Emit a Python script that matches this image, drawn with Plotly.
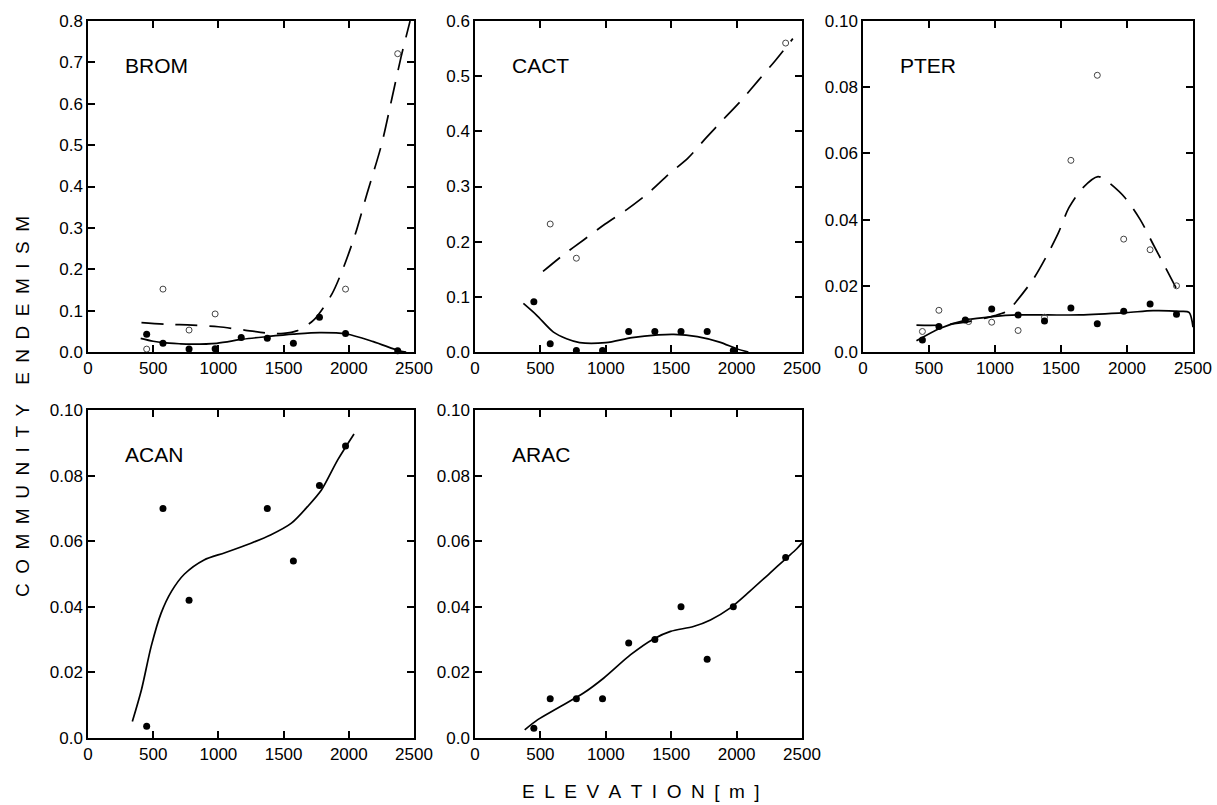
import plotly.graph_objects as go

W, H = 1217, 805

# ---------------- data ----------------
panel_names = ["BROM", "CACT", "PTER", "ACAN", "ARAC"]

# BROM
brom_fill_x = [450, 575, 775, 975, 1175, 1375, 1575, 1775, 1975, 2375]
brom_fill_y = [0.043, 0.021, 0.007, 0.008, 0.035, 0.033, 0.021, 0.084, 0.045, 0.003]
brom_open_x = [450, 575, 775, 975, 1975, 2375]
brom_open_y = [0.007, 0.152, 0.053, 0.092, 0.152, 0.721]
brom_solid_x = [404, 500, 577, 700, 782, 987, 1191, 1370, 1574, 1779, 1984, 2188, 2393, 2440]
brom_solid_y = [0.033, 0.026, 0.0225, 0.020, 0.019, 0.021, 0.031, 0.037, 0.043, 0.047, 0.0435, 0.025, 0.0024, 0.0]
brom_dash_x = [410, 600, 800, 1000, 1200, 1400, 1500, 1600, 1730, 1870, 1960, 2050, 2140, 2250, 2330, 2400, 2470]
brom_dash_y = [0.071, 0.067, 0.065, 0.061, 0.053, 0.045, 0.045, 0.051, 0.077, 0.140, 0.205, 0.285, 0.383, 0.500, 0.612, 0.712, 0.800]

# CACT
cact_fill_x = [450, 575, 775, 975, 1175, 1375, 1575, 1775, 1975]
cact_fill_y = [0.091, 0.015, 0.0025, 0.0025, 0.037, 0.037, 0.037, 0.037, 0.0025]
cact_open_x = [575, 775, 2375]
cact_open_y = [0.232, 0.170, 0.560]
cact_solid_x = [370, 470, 600, 700, 800, 1000, 1200, 1400, 1520, 1700, 1870, 2000, 2090]
cact_solid_y = [0.088, 0.067, 0.036, 0.024, 0.017, 0.017, 0.026, 0.031, 0.032, 0.028, 0.018, 0.006, 0.0]
cact_dash_x = [520, 675, 830, 995, 1160, 1325, 1480, 1630, 1770, 1900, 2040, 2165, 2295, 2430]
cact_dash_y = [0.146, 0.176, 0.203, 0.232, 0.258, 0.288, 0.322, 0.352, 0.389, 0.422, 0.457, 0.492, 0.528, 0.568]

# PTER
pter_fill_x = [450, 575, 775, 975, 1175, 1375, 1575, 1775, 1975, 2175, 2375]
pter_fill_y = [0.0036, 0.0077, 0.0097, 0.0130, 0.0112, 0.0094, 0.0133, 0.0085, 0.0123, 0.0145, 0.0114]
pter_open_x = [450, 575, 800, 975, 1175, 1375, 1575, 1775, 1975, 2175, 2375]
pter_open_y = [0.0062, 0.0126, 0.0092, 0.0090, 0.0065, 0.0105, 0.0579, 0.0836, 0.0341, 0.0309, 0.0200]
pter_solid_x = [405, 586, 788, 985, 1182, 1400, 1641, 1995, 2197, 2399, 2470, 2500]
pter_solid_y = [0.0034, 0.0072, 0.0097, 0.0107, 0.0112, 0.0112, 0.0112, 0.0119, 0.0125, 0.0123, 0.0120, 0.0075]
pter_dash_x = [405, 580, 800, 1000, 1100, 1160, 1290, 1390, 1480, 1560, 1665, 1780, 1845, 1985, 2100, 2200, 2290, 2380]
pter_dash_y = [0.0081, 0.0081, 0.0092, 0.0110, 0.0125, 0.0152, 0.0220, 0.0289, 0.0360, 0.0436, 0.0496, 0.0530, 0.0517, 0.0466, 0.0400, 0.0324, 0.0256, 0.0187]

# ACAN
acan_fill_x = [450, 575, 775, 1375, 1575, 1775, 1975]
acan_fill_y = [0.0036, 0.070, 0.042, 0.070, 0.054, 0.077, 0.089]
acan_solid_x = [340, 410, 485, 560, 640, 740, 890, 1050, 1250, 1400, 1560, 1685, 1790, 1915, 2040]
acan_solid_y = [0.005, 0.0147, 0.028, 0.038, 0.0447, 0.050, 0.0543, 0.0565, 0.0594, 0.0619, 0.0655, 0.0706, 0.0756, 0.0848, 0.0927]

# ARAC
arac_fill_x = [450, 575, 775, 975, 1175, 1375, 1575, 1775, 1975, 2375]
arac_fill_y = [0.003, 0.012, 0.012, 0.012, 0.029, 0.030, 0.040, 0.024, 0.040, 0.055]
arac_solid_x = [380, 480, 630, 830, 985, 1190, 1365, 1495, 1670, 1800, 1950, 2100, 2255, 2380, 2460, 2500]
arac_solid_y = [0.0025, 0.0056, 0.0091, 0.0137, 0.0183, 0.0254, 0.0302, 0.0325, 0.034, 0.036, 0.0396, 0.0447, 0.0503, 0.0548, 0.0577, 0.0595]

x_tick_vals = [0, 500, 1000, 1500, 2000, 2500]
x_tick_text = ["0", "500", "1000", "1500", "2000", "2500"]
y_ticks_big = {"BROM": ([0, 0.1, 0.2, 0.3, 0.4, 0.5, 0.6, 0.7, 0.8],
                        ["0.0", "0.1", "0.2", "0.3", "0.4", "0.5", "0.6", "0.7", "0.8"]),
               "CACT": ([0, 0.1, 0.2, 0.3, 0.4, 0.5, 0.6],
                        ["0.0", "0.1", "0.2", "0.3", "0.4", "0.5", "0.6"])}
y_ticks_small = ([0, 0.02, 0.04, 0.06, 0.08, 0.10], ["0.0", "0.02", "0.04", "0.06", "0.08", "0.10"])

SP = "\u2002"
x_title = SP.join(list("ELEVATION")) + SP + SP.join(list("[m]"))
y_title = SP.join(list("COMMUNITY")) + SP + SP + SP.join(list("ENDEMISM"))

# ---------------- layout geometry (page pixels) ----------------
cols = [(88, 414), (475, 802), (863, 1193)]
rows = [(21, 352), (410, 738)]
panels = [
    ("BROM", 0, 0, 0.8),
    ("CACT", 0, 1, 0.6),
    ("PTER", 0, 2, 0.10),
    ("ACAN", 1, 0, 0.10),
    ("ARAC", 1, 1, 0.10),
]


def px(x):
    return x / W


def py(y):
    return 1 - y / H


FONT = "Liberation Sans, Arial, Helvetica, sans-serif"
fig = go.Figure()

series = {
    "BROM": dict(fill=(brom_fill_x, brom_fill_y), open=(brom_open_x, brom_open_y),
                 solid=(brom_solid_x, brom_solid_y), dash=(brom_dash_x, brom_dash_y)),
    "CACT": dict(fill=(cact_fill_x, cact_fill_y), open=(cact_open_x, cact_open_y),
                 solid=(cact_solid_x, cact_solid_y), dash=(cact_dash_x, cact_dash_y)),
    "PTER": dict(fill=(pter_fill_x, pter_fill_y), open=(pter_open_x, pter_open_y),
                 solid=(pter_solid_x, pter_solid_y), dash=(pter_dash_x, pter_dash_y)),
    "ACAN": dict(fill=(acan_fill_x, acan_fill_y), solid=(acan_solid_x, acan_solid_y)),
    "ARAC": dict(fill=(arac_fill_x, arac_fill_y), solid=(arac_solid_x, arac_solid_y)),
}

annotations = []
for i, (name, r, c, ymax) in enumerate(panels):
    idx = "" if i == 0 else str(i + 1)
    xa, ya = "x" + idx, "y" + idx
    s = series[name]
    if "dash" in s:
        fig.add_trace(go.Scatter(x=s["dash"][0], y=s["dash"][1], mode="lines",
                                 line=dict(color="black", width=1.7, dash="22px,12px", shape="spline", smoothing=0.8),
                                 xaxis=xa, yaxis=ya, showlegend=False, hoverinfo="skip"))
    fig.add_trace(go.Scatter(x=s["solid"][0], y=s["solid"][1], mode="lines",
                             line=dict(color="black", width=1.7, shape="spline", smoothing=0.8),
                             xaxis=xa, yaxis=ya, showlegend=False, hoverinfo="skip"))
    if "open" in s:
        fig.add_trace(go.Scatter(x=s["open"][0], y=s["open"][1], mode="markers",
                                 marker=dict(symbol="circle-open", size=6, color="#444444", line=dict(width=1)),
                                 xaxis=xa, yaxis=ya, showlegend=False, cliponaxis=False))
    fig.add_trace(go.Scatter(x=s["fill"][0], y=s["fill"][1], mode="markers",
                             marker=dict(symbol="circle", size=7, color="black"),
                             xaxis=xa, yaxis=ya, showlegend=False, cliponaxis=False))

    x0, x1 = cols[c]
    y0, y1 = rows[r]
    if name in y_ticks_big:
        tv, tt = y_ticks_big[name]
    else:
        tv, tt = y_ticks_small
    common = dict(showline=True, linecolor="black", linewidth=1.5, mirror="ticks",
                  ticks="inside", ticklen=7, tickwidth=1.5, tickcolor="black",
                  showgrid=False, zeroline=False, automargin=False,
                  tickfont=dict(family=FONT, size=17, color="black"))
    fig.layout["xaxis" + idx] = dict(domain=[px(x0), px(x1)], range=[0, 2500],
                                     tickvals=x_tick_vals, ticktext=x_tick_text,
                                     anchor=ya, **common)
    fig.layout["yaxis" + idx] = dict(domain=[py(y1), py(y0)], range=[0, ymax],
                                     tickvals=tv, ticktext=tt, anchor=xa, **common)
    annotations.append(dict(text=name, xref="paper", yref="paper",
                            x=px(x0 + 35), y=py(y0 + 44),
                            xanchor="left", yanchor="middle", showarrow=False,
                            font=dict(family=FONT, size=21, color="black")))

annotations.append(dict(text=y_title, xref="paper", yref="paper", x=px(22), y=py(407),
                        textangle=-90, showarrow=False, xanchor="center", yanchor="middle",
                        font=dict(family=FONT, size=19, color="black")))
annotations.append(dict(text=x_title, xref="paper", yref="paper", x=px(641), y=py(791),
                        showarrow=False, xanchor="center", yanchor="middle",
                        font=dict(family=FONT, size=19, color="black")))

fig.update_layout(template="none", width=W, height=H, autosize=False,
                  margin=dict(l=0, r=0, t=0, b=0, autoexpand=False),
                  paper_bgcolor="white", plot_bgcolor="white",
                  annotations=annotations)

# remove the browser's default 8px body margin so the figure fills the window exactly
fig.write_html("out.html",
               config={"displayModeBar": False},
               post_script="document.body.style.margin='0';document.body.style.overflow='hidden';")
